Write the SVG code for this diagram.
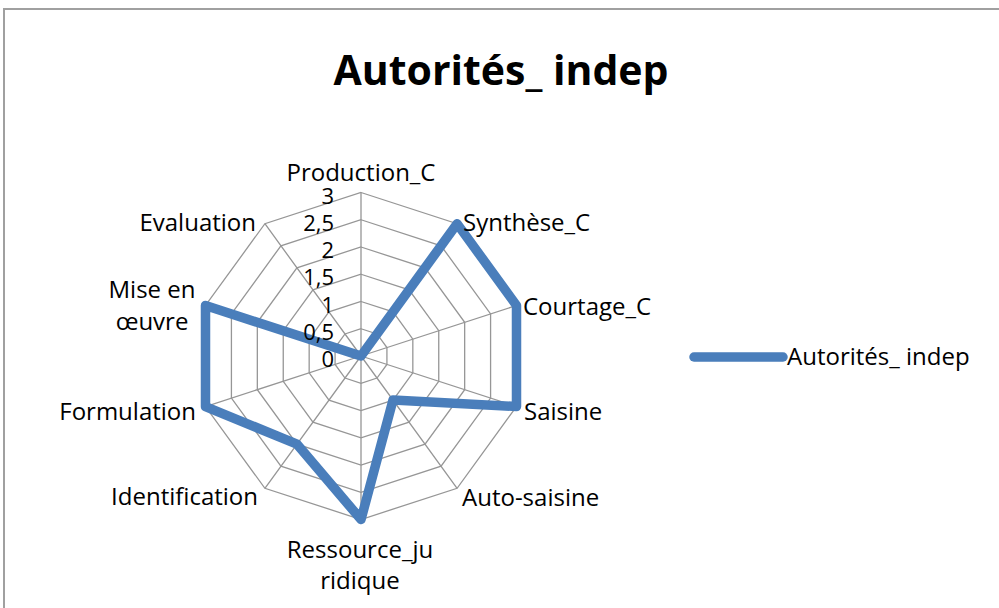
<svg xmlns="http://www.w3.org/2000/svg" width="999" height="608" viewBox="0 0 999 608">
<style>
.grid{fill:none;stroke:#969696;stroke-width:1.3}
.lbl{font-family:"Open Sans","DejaVu Sans",sans-serif;font-size:24px;fill:#000}
.tick{font-family:"Open Sans","DejaVu Sans",sans-serif;font-size:22px;fill:#000;text-anchor:end}
.title{font-family:"Open Sans","DejaVu Sans",sans-serif;font-size:41px;font-weight:bold;fill:#000;text-anchor:middle}
.series{fill:none;stroke:#4A7EBB;stroke-width:9.5;stroke-linejoin:round;stroke-linecap:round}
</style>
<rect x="0" y="0" width="999" height="608" fill="#fff"/>
<rect id="frame" x="4" y="9" width="1010" height="620" fill="#fff" stroke="#A0A0A0" stroke-width="2"/>
<text id="title" class="title" x="501" y="85">Autorités_ indep</text>
<g id="grid">
<polygon class="grid" points="361,192.5 457.1,223.73 516.5,305.48 516.5,406.52 457.1,488.27 361,519.5 264.9,488.27 205.5,406.52 205.5,305.48 264.9,223.73"/>
<polygon class="grid" points="361,219.75 441.09,245.77 490.58,313.9 490.58,398.1 441.09,466.23 361,492.25 280.91,466.23 231.42,398.1 231.42,313.9 280.91,245.77"/>
<polygon class="grid" points="361,247 425.07,267.82 464.67,322.32 464.67,389.68 425.07,444.18 361,465 296.93,444.18 257.33,389.68 257.33,322.32 296.93,267.82"/>
<polygon class="grid" points="361,274.25 409.05,289.86 438.75,330.74 438.75,381.26 409.05,422.14 361,437.75 312.95,422.14 283.25,381.26 283.25,330.74 312.95,289.86"/>
<polygon class="grid" points="361,301.5 393.03,311.91 412.83,339.16 412.83,372.84 393.03,400.09 361,410.5 328.97,400.09 309.17,372.84 309.17,339.16 328.97,311.91"/>
<polygon class="grid" points="361,328.75 377.02,333.95 386.92,347.58 386.92,364.42 377.02,378.05 361,383.25 344.98,378.05 335.08,364.42 335.08,347.58 344.98,333.95"/>
<path class="grid" d="M361,356L361,192.5M361,356L457.1,223.73M361,356L516.5,305.48M361,356L516.5,406.52M361,356L457.1,488.27M361,356L361,519.5M361,356L264.9,488.27M361,356L205.5,406.52M361,356L205.5,305.48M361,356L264.9,223.73"/>
</g>
<g id="series">
<polygon class="series" points="361,356 457.1,223.73 516.5,305.48 516.5,406.52 393.03,400.09 361,519.5 296.93,444.18 205.5,406.52 205.5,305.48 361,356"/>
</g>
<g id="ticks">
<text class="tick" x="334" y="203.5">3</text>
<text class="tick" x="334" y="230.75">2,5</text>
<text class="tick" x="334" y="258">2</text>
<text class="tick" x="334" y="285.25">1,5</text>
<text class="tick" x="334" y="312.5">1</text>
<text class="tick" x="334" y="339.75">0,5</text>
<text class="tick" x="334" y="367">0</text>
</g>
<g id="axis-labels">
<text class="lbl" x="361" y="181" text-anchor="middle">Production_C</text>
<text class="lbl" x="463" y="231">Synthèse_C</text>
<text class="lbl" x="523" y="315">Courtage_C</text>
<text class="lbl" x="524" y="420">Saisine</text>
<text class="lbl" x="462" y="506">Auto-saisine</text>
<text class="lbl" x="360" y="558" text-anchor="middle">Ressource_ju</text>
<text class="lbl" x="360" y="589" text-anchor="middle">ridique</text>
<text class="lbl" x="258" y="505" text-anchor="end">Identification</text>
<text class="lbl" x="196" y="420" text-anchor="end">Formulation</text>
<text class="lbl" x="152" y="298" text-anchor="middle">Mise en</text>
<text class="lbl" x="152" y="330" text-anchor="middle">œuvre</text>
<text class="lbl" x="256" y="231" text-anchor="end">Evaluation</text>
</g>
<g id="legend">
<line x1="694" y1="357" x2="783" y2="357" stroke="#4A7EBB" stroke-width="9.5" stroke-linecap="round"/>
<text class="lbl" x="787" y="365">Autorités_ indep</text>
</g>
</svg>
